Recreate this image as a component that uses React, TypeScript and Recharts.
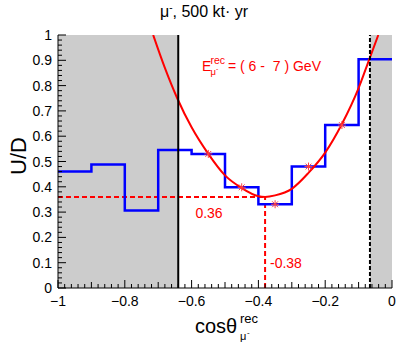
import React from 'react';
import { ComposedChart, XAxis, YAxis, Line, Scatter, ReferenceArea } from 'recharts';

// Histogram (U/D per cos bin)
const binEdges = [-1, -0.9, -0.8, -0.7, -0.6, -0.5, -0.4, -0.3, -0.2, -0.1, 0];
const binValues = [0.46, 0.488, 0.306, 0.545, 0.53, 0.398, 0.331, 0.48, 0.644, 0.904];

// Fit curve
const fitX = [-0.715, -0.68, -0.643, -0.6, -0.55, -0.5, -0.45, -0.4, -0.38, -0.35, -0.3, -0.25, -0.2, -0.15, -0.1, -0.068, -0.041];
const fitY = [1.0, 0.87, 0.75, 0.635, 0.53, 0.445, 0.395, 0.363, 0.36, 0.366, 0.392, 0.455, 0.535, 0.648, 0.79, 0.904, 1.0];

// Fit points (stars)
const markerX = [-0.55, -0.45, -0.35, -0.25, -0.15];
const markerY = [0.53, 0.398, 0.331, 0.48, 0.644];

// Minimum annotation
const minX = -0.38;
const minY = 0.36;

// Cut lines
const cutLow = -0.64;
const cutHigh = -0.066;

const xTickLabels = ['\u22121', '\u22120.8', '\u22120.6', '\u22120.4', '\u22120.2', '0'];
const yTickLabels = ['0', '0.1', '0.2', '0.3', '0.4', '0.5', '0.6', '0.7', '0.8', '0.9', '1'];

const xTicks = Array.from({ length: 51 }, (_, i) => -1 + i * 0.02);
const yTicks = Array.from({ length: 51 }, (_, i) => i * 0.02);

const histData = binEdges.map((x, i) => ({ x, y: binValues[Math.min(i, binValues.length - 1)] }));
const fitData = fitX.map((x, i) => ({ x, y: fitY[i] }));
const markerData = markerX.map((x, i) => ({ x, y: markerY[i] }));
const hDash = [{ x: -1, y: minY }, { x: minX, y: minY }];
const vDash = [{ x: minX, y: 0 }, { x: minX, y: minY }];
const cutLowData = [{ x: cutLow, y: 0 }, { x: cutLow, y: 1 }];
const cutHighData = [{ x: cutHigh, y: 0 }, { x: cutHigh, y: 1 }];

const FONT = "'Liberation Sans', Arial, Helvetica, sans-serif";

const xLen = (v: number) => {
  const k = Math.round(v * 100);
  return k % 20 === 0 ? 8 : k % 10 === 0 ? 6 : 4;
};
const yLen = (v: number) => {
  const k = Math.round(v * 100);
  return k % 10 === 0 ? 8 : 4;
};

const XBottomTick = (props: any) => {
  const { x, y, payload } = props;
  const k = Math.round(payload.value * 100);
  const len = xLen(payload.value);
  const major = k % 20 === 0;
  return (
    <g>
      <line x1={x} x2={x} y1={y} y2={y - len} stroke="#000" strokeWidth={1} />
      {major && (
        <text x={x} y={y + 18} textAnchor="middle" fontSize={14} fontFamily={FONT} fill="#000">
          {xTickLabels[(k + 100) / 20]}
        </text>
      )}
    </g>
  );
};

const XTopTick = (props: any) => {
  const { x, y, payload } = props;
  const len = xLen(payload.value);
  return <line x1={x} x2={x} y1={y} y2={y + len} stroke="#000" strokeWidth={1} />;
};

const YLeftTick = (props: any) => {
  const { x, y, payload } = props;
  const k = Math.round(payload.value * 100);
  const len = yLen(payload.value);
  const major = k % 10 === 0;
  return (
    <g>
      <line x1={x} x2={x + len} y1={y} y2={y} stroke="#000" strokeWidth={1} />
      {major && (
        <text x={x - 6} y={y + 5} textAnchor="end" fontSize={14} fontFamily={FONT} fill="#000">
          {yTickLabels[k / 10]}
        </text>
      )}
    </g>
  );
};

const YRightTick = (props: any) => {
  const { x, y, payload } = props;
  const len = yLen(payload.value);
  return <line x1={x} x2={x - len} y1={y} y2={y} stroke="#000" strokeWidth={1} />;
};

const Star = (props: any) => {
  const { cx, cy } = props;
  const r = 4;
  const d = 2.9;
  const c = '#ff4040';
  return (
    <g stroke={c} strokeWidth={1}>
      <line x1={cx - r} x2={cx + r} y1={cy} y2={cy} />
      <line x1={cx} x2={cx} y1={cy - r} y2={cy + r} />
      <line x1={cx - d} x2={cx + d} y1={cy - d} y2={cy + d} />
      <line x1={cx - d} x2={cx + d} y1={cy + d} y2={cy - d} />
    </g>
  );
};

export default function App() {
  return (
    <div style={{ position: 'absolute', left: 0, top: 0, width: 407, height: 344, background: '#fff' }}>
      <ComposedChart
        width={407}
        height={344}
        margin={{ top: 35, right: 15, bottom: 26, left: 18 }}
        style={{ position: 'absolute', left: 0, top: 0 }}
      >
        <XAxis
          dataKey="x"
          type="number"
          domain={[-1, 0]}
          allowDataOverflow
          ticks={xTicks}
          interval={0}
          height={30}
          tickSize={0}
          tickMargin={0}
          tickLine={false}
          axisLine={{ stroke: '#000', strokeWidth: 1 }}
          tick={<XBottomTick />}
        />
        <XAxis
          xAxisId="top"
          orientation="top"
          type="number"
          domain={[-1, 0]}
          allowDataOverflow
          ticks={xTicks}
          interval={0}
          height={0}
          tickSize={0}
          tickMargin={0}
          tickLine={false}
          axisLine={{ stroke: '#000', strokeWidth: 1 }}
          tick={<XTopTick />}
        />
        <YAxis
          dataKey="y"
          type="number"
          domain={[0, 1]}
          allowDataOverflow
          ticks={yTicks}
          interval={0}
          width={40}
          tickSize={0}
          tickMargin={0}
          tickLine={false}
          axisLine={{ stroke: '#000', strokeWidth: 1 }}
          tick={<YLeftTick />}
        />
        <YAxis
          yAxisId="right"
          orientation="right"
          type="number"
          domain={[0, 1]}
          allowDataOverflow
          ticks={yTicks}
          interval={0}
          width={0}
          tickSize={0}
          tickMargin={0}
          tickLine={false}
          axisLine={{ stroke: '#000', strokeWidth: 1 }}
          tick={<YRightTick />}
        />
        <ReferenceArea x1={-1} x2={cutLow} y1={0} y2={1} fill="#cccccc" fillOpacity={1} stroke="none" />
        <ReferenceArea x1={cutHigh} x2={0} y1={0} y2={1} fill="#cccccc" fillOpacity={1} stroke="none" />
        <Line data={hDash} dataKey="y" stroke="#ff0000" strokeWidth={2} strokeDasharray="5 3" dot={false} isAnimationActive={false} />
        <Line data={vDash} dataKey="y" stroke="#ff0000" strokeWidth={2} strokeDasharray="5 3" dot={false} isAnimationActive={false} />
        <Line data={histData} dataKey="y" type="stepAfter" stroke="#0000ff" strokeWidth={2.5} dot={false} isAnimationActive={false} />
        <Line data={fitData} dataKey="y" type="monotone" stroke="#ff0000" strokeWidth={2} dot={false} isAnimationActive={false} />
        <Line data={cutLowData} dataKey="y" stroke="#000" strokeWidth={2} dot={false} isAnimationActive={false} />
        <Line data={cutHighData} dataKey="y" stroke="#000" strokeWidth={2} strokeDasharray="4 2" dot={false} isAnimationActive={false} />
        <Scatter data={markerData} dataKey="y" shape={<Star />} isAnimationActive={false} />
      </ComposedChart>
      <svg width={407} height={344} style={{ position: 'absolute', left: 0, top: 0, pointerEvents: 'none' }} fontFamily={FONT}>
        <text x={204} y={17} textAnchor="middle" fontSize={16} fill="#000">
          μ<tspan fontSize={10} dy={-6}>-</tspan>
          <tspan fontSize={16} dy={6}>, 500 kt· yr</tspan>
        </text>
        <text transform="translate(26,156) rotate(-90)" textAnchor="middle" fontSize={22} fill="#000">U/D</text>
        <text x={195} y={333} fontSize={20} fill="#000">cosθ</text>
        <text x={240} y={323} fontSize={13} fill="#000">rec</text>
        <text x={240} y={340} fontSize={11} fill="#000">μ</text>
        <text x={247} y={335} fontSize={8} fill="#000">-</text>
        <g fill="#ff0000">
          <text x={202} y={71} fontSize={14}>E</text>
          <text x={210.5} y={64} fontSize={10.5}>rec</text>
          <text x={210.5} y={75} fontSize={9.5}>μ</text>
          <text x={216} y={71} fontSize={7}>-</text>
          <text x={228} y={71} fontSize={14} style={{ whiteSpace: 'pre' }}>= ( 6 -  7 ) GeV</text>
          <text x={209} y={218} fontSize={14} textAnchor="middle">0.36</text>
          <text x={270} y={268} fontSize={14}>-0.38</text>
        </g>
      </svg>
    </div>
  );
}
